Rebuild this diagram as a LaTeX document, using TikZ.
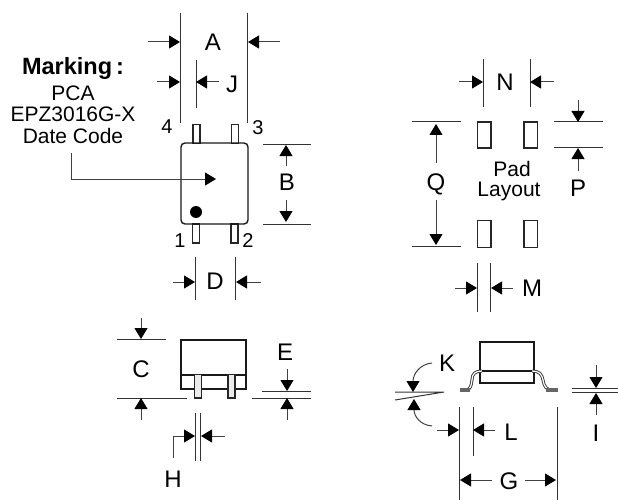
\documentclass[tikz,border=0pt]{standalone}
\usepackage{fontspec}
\setmainfont{Liberation Sans}
\usetikzlibrary{arrows.meta}
\tikzset{
  ln/.style={line width=1pt,draw=black!80},
  dimarr/.style={line width=1pt,draw=black!75,-{Triangle[length=11pt,width=13pt,color=black]}},
  body/.style={line width=1.4pt,draw=black!90},
  lead/.style={line width=1.1pt,draw=black!85,fill=white},
  pad/.style={line width=1.3pt,draw=black!85,fill=white},
  big/.style={font=\fontsize{24}{24}\selectfont,inner sep=0pt},
  mid/.style={font=\fontsize{20}{20}\selectfont,inner sep=0pt},
  small/.style={font=\fontsize{21}{21}\selectfont,inner sep=0pt},
  foot/.style={line width=0.9pt,draw=black!80,double=white,double distance=1.2pt,line cap=butt},
  footflat/.style={line width=3.4pt,draw=black!60}
}
\begin{document}
\begin{tikzpicture}[x=1pt,y=-1pt]
\useasboundingbox (0,0) rectangle (618,500);
% ---------- top view
\draw[ln] (180,13)--(180,123) (247,13)--(247,123) (196,60)--(196,108);
\draw[dimarr] (148,42)--(180,42);
\draw[dimarr] (280,42)--(248,42);
\draw[dimarr] (157,82)--(180,82);
\draw[dimarr] (219,82)--(196,82);
\node[big] (lA) at (213,42) {A};
\node[big] (lJ) at (232,84) {J};
\node[font=\bfseries\fontsize{23.5}{23.5}\selectfont,inner sep=0pt] (mk) at (73,68) {Marking\,:};
\node[small] (t1) at (73,93) {PCA};
\node[small] (t2) at (73,114) {EPZ3016G-X};
\node[small] (t3) at (73,136) {Date Code};
\foreach \x in {193,231.5}{\draw[lead] (\x,124.5) rectangle +(7,19);}
\foreach \x in {192.5,231}{\draw[lead] (\x,224) rectangle +(7,19);}
\draw[body,rounded corners=4pt] (181,143) rectangle (248,224);
\fill (196,212) circle (6);
\node[mid] (n4) at (167,127) {4};
\node[mid] (n3) at (258,128) {3};
\node[mid] (n1) at (180,241) {1};
\node[mid] (n2) at (248,241) {2};
\draw[dimarr] (71,153)--(71,179)--(216,179);
\draw[ln] (263,144)--(311,144) (263,224)--(311,224);
\draw[dimarr] (286,166)--(286,145);
\draw[dimarr] (286,200)--(286,222);
\node[big] (lB) at (287,182) {B};
\draw[ln] (195,257)--(195,300) (235,257)--(235,300);
\draw[dimarr] (173,282)--(195,282);
\draw[dimarr] (261,282)--(236,282);
\node[big] (lD) at (215,281) {D};
% ---------- pad layout
\draw[ln] (483,59)--(483,107) (530,59)--(530,107);
\draw[dimarr] (459,82)--(483,82);
\draw[dimarr] (554,82)--(530,82);
\node[big] (lN) at (505,82) {N};
\draw[ln] (412,122)--(461,122) (412,246.5)--(461,246.5);
\draw[dimarr] (436,163)--(436,124);
\draw[dimarr] (436,200)--(436,245);
\node[big] (lQ) at (436,184) {Q};
\foreach \x in {477.5,524}{
  \draw[pad] (\x,122)rectangle +(13.5,26);
  \draw[pad] (\x,220.5)rectangle +(13.5,27);
}
\draw[ln] (554,122)--(603,122) (554,147)--(603,147);
\draw[dimarr] (578,100)--(578,122);
\draw[dimarr] (578,171)--(578,148);
\node[big] (lP) at (578,188) {P};
\node[small] (pd) at (512,168.5) {Pad};
\node[small] (ly) at (509,191.5) {Layout};
\draw[ln] (477,263)--(477,312) (490.5,263)--(490.5,312);
\draw[dimarr] (455,288)--(477,288);
\draw[dimarr] (513,288)--(491,288);
\node[big] (lM) at (532,288) {M};
% ---------- front view
\draw[ln] (117,339)--(166,339) (117,398)--(187,398);
\draw[dimarr] (141,318)--(141,339);
\draw[dimarr] (141,420)--(141,398);
\node[big] (lC) at (141,369) {C};
\draw[body] (181,340) rectangle (246,389);
\draw[body] (181,375)--(246,375);
\foreach \x in {194.5,228}{\draw[lead,fill=white!92!black] (\x,374.5) rectangle +(7,23.5);}
\draw[ln] (262,391)--(311,391) (252,398)--(311,398);
\draw[dimarr] (287,369)--(287,391);
\draw[dimarr] (287,420)--(287,398);
\node[big] (lE) at (285,352) {E};
\draw[ln] (195.5,413)--(195.5,461) (200.5,413)--(200.5,461);
\draw[dimarr] (173,458)--(173,436)--(195,436);
\draw[dimarr] (225,436)--(201,436);
\node[big] (lH) at (173,479) {H};
% ---------- side view
\draw[body] (480,342) rectangle (534,383);
\draw[body] (480,371)--(534,371);
\draw[foot] (466,390) .. controls (471,389) and (471,386) .. (472,380) .. controls (472,374) and (475,371) .. (482,371);
\draw[foot] (532,371) .. controls (539,371) and (542,374) .. (543,380) .. controls (544,387) and (547,390) .. (552,390);
\draw[footflat] (459.5,390) -- (470,390);
\draw[footflat] (546,390) -- (558,390);
\draw[ln] (395,392)--(444,392) (395,400)--(444,392);
\draw[dimarr] (432,363) .. controls (420,364) and (413,374) .. (413,392);
\draw[dimarr] (432,426) .. controls (420,425) and (414,416) .. (414,399);
\node[big] (lK) at (447,363) {K};
\draw[ln] (459,407)--(459,500) (473,407)--(473,456) (557,407)--(557,500);
\draw[dimarr] (437,430)--(459,430);
\draw[dimarr] (495,430)--(473,430);
\node[big] (lL) at (511,432) {L};
\draw[dimarr] (492,480)--(460,480);
\draw[dimarr] (525,480)--(556,480);
\node[big] (lG) at (509,481) {G};
\draw[ln] (572,388)--(618,388) (572,392.5)--(618,392.5);
\draw[dimarr] (596,365)--(596,388);
\draw[dimarr] (596,415)--(596,393);
\node[big] (lI) at (596,433) {I};
\end{tikzpicture}
\end{document}
